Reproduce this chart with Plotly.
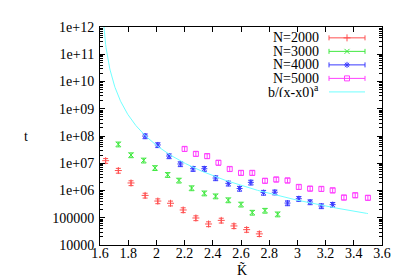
import numpy as np
import plotly.graph_objects as go

# ---- data ----
K2000 = [1.64, 1.73, 1.82, 1.92, 2.01, 2.10, 2.19, 2.28, 2.37, 2.46, 2.55, 2.64, 2.73]
t2000 = [1.24e7, 5.4e6, 1.89e6, 6.6e5, 4.1e5, 3.4e5, 1.93e5, 9.8e4, 5.9e4, 8.0e4, 5.0e4, 3.66e4, 2.56e4]

K3000 = [1.73, 1.82, 1.91, 1.99, 2.08, 2.16, 2.25, 2.34, 2.42, 2.51, 2.60, 2.68, 2.77, 2.86]
t3000 = [4.99e7, 2.0e7, 1.28e7, 6.76e6, 3.78e6, 2.35e6, 1.23e6, 7.96e5, 6.2e5, 4.45e5, 3.1e5, 1.56e5, 1.84e5, 1.35e5]

K4000 = [1.92, 2.01, 2.09, 2.17, 2.26, 2.34, 2.42, 2.51, 2.59, 2.67, 2.76, 2.84, 2.93, 3.01, 3.09, 3.17, 3.25]
t4000 = [9.95e7, 4.7e7, 1.84e7, 9.4e6, 6.3e6, 6.3e6, 2.87e6, 1.83e6, 1.18e6, 1.99e6, 8.4e5, 8.65e5,
         3.46e5, 4.99e5, 3.77e5, 2.7e5, 3.03e5]

K5000 = [2.20, 2.28, 2.36, 2.44, 2.52, 2.60, 2.68, 2.77, 2.85, 2.93, 3.01, 3.09, 3.17, 3.25, 3.33, 3.41, 3.50]
t5000 = [3.37e7, 2.22e7, 1.84e7, 1.05e7, 6.2e6, 4.46e6, 4.46e6, 2.29e6, 2.55e6, 2.35e6, 1.36e6, 1.18e6,
         1.15e6, 1.02e6, 5.56e5, 6.74e5, 5.43e5]

# fit parameters of b/(x-x0)^a
fit_b = 1.53e6
fit_x0 = 1.6
fit_a = 3.7
fit_xmax = 3.5

series_names = ["N=2000", "N=3000", "N=4000", "N=5000"]
fit_name = "b/(x-x0)<sup>a</sup>"

x_tickvals = [1.6, 1.8, 2.0, 2.2, 2.4, 2.6, 2.8, 3.0, 3.2, 3.4, 3.6]
x_ticktext = ["1.6", "1.8", "2", "2.2", "2.4", "2.6", "2.8", "3", "3.2", "3.4", "3.6"]
y_tickvals = [1e4, 1e5, 1e6, 1e7, 1e8, 1e9, 1e10, 1e11, 1e12]
y_ticktext = ["10000", "100000", "1e+06", "1e+07", "1e+08", "1e+09", "1e+10", "1e+11", "1e+12"]

# ---- styles ----
colors = ["#ff5050", "#40e840", "#3a3aff", "#ff40ff"]
symbols = ["cross-thin-open", "x-thin-open", "asterisk-open", "square-open"]
fit_color = "#70ffff"
FONT = "Liberation Serif"
FS = 14

fig = go.Figure()

data = [(K2000, t2000), (K3000, t3000), (K4000, t4000), (K5000, t5000)]
for (k, t), c, s, n in zip(data, colors, symbols, series_names):
    fig.add_trace(go.Scatter(
        x=k, y=t, mode="markers", name=n, showlegend=False,
        marker=dict(symbol=s, size=5, color=c, line=dict(color=c, width=1)),
        error_y=dict(type="percent", value=20, color=c, thickness=1, width=2.5),
    ))

xf = np.linspace(fit_x0 + 0.002, fit_xmax, 600)
yf = fit_b / (xf - fit_x0) ** fit_a
fig.add_trace(go.Scatter(x=xf, y=yf, mode="lines", showlegend=False,
                         line=dict(color=fit_color, width=1)))

# ---- custom gnuplot-style key (text right-aligned, sample to the right) ----
L, R, T, B, W, H = 92, 25, 16, 42, 399, 279
pw, ph = W - L - R, H - T - B
def px2paper(px, py):
    return (px - L) / pw, (H - B - py) / ph

row_py = [27, 40.7, 54.4, 68.1, 81.8]
text_px = 312
samp_l, samp_r = 321, 357
for i, (n, c, s) in enumerate(zip(series_names, colors, symbols)):
    xt, yt = px2paper(text_px, row_py[i])
    fig.add_annotation(x=xt, y=yt, xref="paper", yref="paper", text=n, showarrow=False,
                       xanchor="right", yanchor="middle", height=11, borderpad=0,
                       font=dict(family=FONT, size=FS, color="black"))
    xl, yl = px2paper(samp_l, row_py[i])
    xr, _ = px2paper(samp_r, row_py[i])
    fig.add_trace(go.Scatter(
        x=[(xl + xr) / 2], y=[yl], xaxis="x2", yaxis="y2", mode="markers", showlegend=False,
        marker=dict(symbol=s, size=5, color=c, line=dict(color=c, width=1)),
        error_x=dict(type="constant", value=(xr - xl) / 2, color=c, thickness=1, width=2.5),
        hoverinfo="skip",
    ))
xt, yt = px2paper(text_px, row_py[4])
fig.add_annotation(x=xt, y=yt, xref="paper", yref="paper", text=fit_name, showarrow=False,
                   xanchor="right", yanchor="middle", height=11, borderpad=0,
                   font=dict(family=FONT, size=FS, color="black"))
xl, yl = px2paper(samp_l, row_py[4])
xr, _ = px2paper(samp_r, row_py[4])
fig.add_trace(go.Scatter(x=[xl, xr], y=[yl, yl], xaxis="x2", yaxis="y2", mode="lines",
                         showlegend=False, line=dict(color=fit_color, width=1), hoverinfo="skip"))

# axis titles
fig.add_annotation(x=px2paper(14, 127)[0], y=px2paper(14, 127)[1], xref="paper", yref="paper",
                   text="t", showarrow=False, font=dict(family=FONT, size=FS, color="black"))
fig.add_annotation(x=px2paper(233.5, 271)[0], y=px2paper(233.5, 271)[1], xref="paper", yref="paper",
                   text="K\u0303", showarrow=False, borderpad=0,
                   font=dict(family=FONT, size=FS, color="black"))

axis_common = dict(showline=True, linecolor="black", linewidth=1, mirror="ticks",
                   ticks="inside", ticklen=5, tickcolor="black", showgrid=False, zeroline=False,
                   tickfont=dict(family=FONT, size=FS, color="black"))

fig.update_layout(
    width=W, height=H,
    margin=dict(l=L, r=R, t=T, b=B),
    paper_bgcolor="white", plot_bgcolor="white",
    showlegend=False,
    xaxis=dict(range=[1.6, 3.6], tickvals=x_tickvals, ticktext=x_ticktext, ticklabelstandoff=-5,
               **axis_common),
    yaxis=dict(type="log", range=[4, 12], tickvals=y_tickvals, ticktext=y_ticktext, ticklabelstandoff=2,
               minor=dict(ticks="inside", ticklen=3, tickcolor="black", dtick="D1", showgrid=False),
               **axis_common),
    xaxis2=dict(range=[0, 1], overlaying="x", anchor="y2", visible=False),
    yaxis2=dict(range=[0, 1], overlaying="y", anchor="x2", visible=False),
)

fig.write_html("out.html")
